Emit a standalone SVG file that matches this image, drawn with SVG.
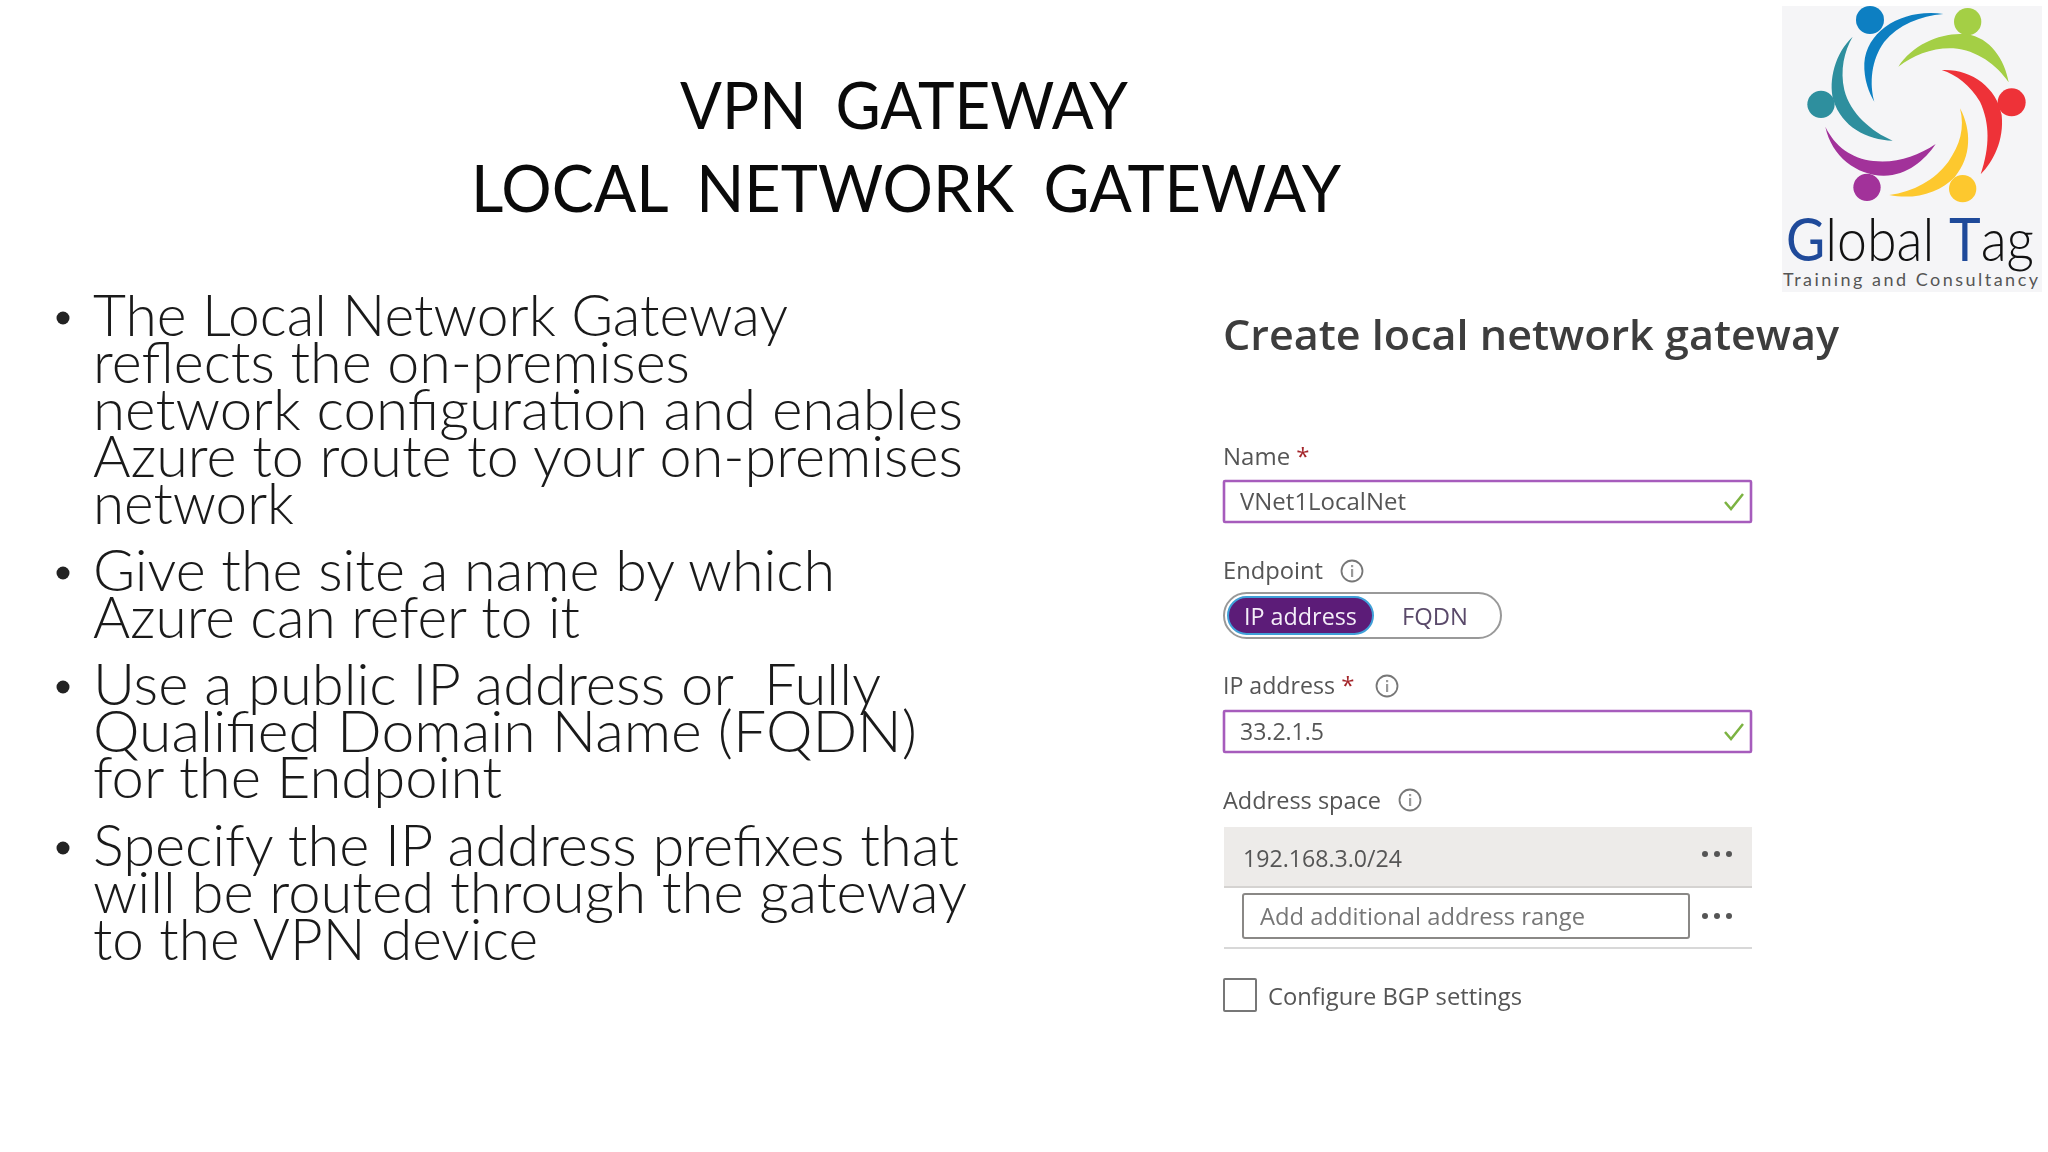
<svg xmlns="http://www.w3.org/2000/svg" width="2048" height="1152" viewBox="0 0 2048 1152">
<style>
.t{font-family:"Lato","Open Sans",sans-serif;fill:#1a1a1a}
.h{font-size:66px;font-weight:400;fill:#0a0a0a;word-spacing:14px}
.b{font-size:58px;font-weight:300;white-space:pre}
.u{font-family:"Open Sans","Noto Sans",sans-serif;fill:#555;font-size:24px}
.in{fill:#fff;stroke:#a65cbc;stroke-width:2.6}
.ck{fill:none;stroke:#7cb342;stroke-width:2.5}
.ic{fill:none;stroke:#777;stroke-width:1.8}
.id{fill:#999}
.dot{fill:#555}
.bl{fill:#222}
</style>
<defs><filter id="soft" x="-2%" y="-2%" width="104%" height="104%"><feGaussianBlur stdDeviation="0.5"/></filter></defs>
<rect width="2048" height="1152" fill="#fff"/>
<g id="title">
<text class="t h" x="680" y="129" textLength="448" lengthAdjust="spacingAndGlyphs">VPN GATEWAY</text>
<text class="t h" x="471" y="212" textLength="870" lengthAdjust="spacingAndGlyphs">LOCAL NETWORK GATEWAY</text>
</g>
<g id="bullets">
<text class="t b" x="93" y="336" textLength="695" lengthAdjust="spacingAndGlyphs">The Local Network Gateway</text>
<text class="t b" x="93" y="383" textLength="597" lengthAdjust="spacingAndGlyphs">reflects the on-premises</text>
<text class="t b" x="93" y="430" textLength="870" lengthAdjust="spacingAndGlyphs">network configuration and enables</text>
<text class="t b" x="93" y="477" textLength="870" lengthAdjust="spacingAndGlyphs">Azure to route to your on-premises</text>
<text class="t b" x="93" y="524" textLength="201" lengthAdjust="spacingAndGlyphs">network</text>
<text class="t b" x="93" y="591" textLength="742" lengthAdjust="spacingAndGlyphs">Give the site a name by which</text>
<text class="t b" x="93" y="638" textLength="487" lengthAdjust="spacingAndGlyphs">Azure can refer to it</text>
<text class="t b" x="93" y="705" textLength="788" lengthAdjust="spacingAndGlyphs">Use a public IP address or  Fully</text>
<text class="t b" x="93" y="752" textLength="824" lengthAdjust="spacingAndGlyphs">Qualified Domain Name (FQDN)</text>
<text class="t b" x="93" y="798" textLength="409" lengthAdjust="spacingAndGlyphs">for the Endpoint</text>
<text class="t b" x="93" y="866" textLength="866" lengthAdjust="spacingAndGlyphs">Specify the IP address prefixes that</text>
<text class="t b" x="93" y="913" textLength="874" lengthAdjust="spacingAndGlyphs">will be routed through the gateway</text>
<text class="t b" x="93" y="960" textLength="445" lengthAdjust="spacingAndGlyphs">to the VPN device</text>
<circle class="bl" cx="63" cy="318" r="6.5"/><circle class="bl" cx="63" cy="573" r="6.5"/><circle class="bl" cx="63" cy="687" r="6.5"/><circle class="bl" cx="63" cy="848" r="6.5"/>
</g>
<g id="form" filter="url(#soft)">
<text x="1223" y="350" font-family="Open Sans" font-size="42" font-weight="600" fill="#3c3c3c" textLength="616" lengthAdjust="spacingAndGlyphs">Create local network gateway</text>
<text class="u" x="1223" y="465">Name <tspan style="fill:#a4262c">*</tspan></text>
<rect class="in" x="1224" y="481" width="527" height="41" rx="1"/>
<text class="u" x="1240" y="510" textLength="166" lengthAdjust="spacingAndGlyphs">VNet1LocalNet</text>
<path class="ck" d="M1725 502l6 7 12-15"/>
<text class="u" x="1223" y="579" textLength="100" lengthAdjust="spacingAndGlyphs">Endpoint</text>
<circle class="ic" cx="1352" cy="571" r="10.5"/><rect class="id" x="1351" y="569" width="2.2" height="8"/><rect class="id" x="1351" y="565" width="2.2" height="2.2"/>
<rect x="1224" y="593" width="277" height="45" rx="22.5" fill="#fff" stroke="#999" stroke-width="2"/>
<rect x="1228" y="597" width="145" height="37" rx="18.5" fill="#5c1a78" stroke="#3fa0d8" stroke-width="2"/>
<text class="u" x="1244" y="625" style="fill:#f4eef8" textLength="113" lengthAdjust="spacingAndGlyphs">IP address</text>
<text class="u" x="1402" y="625" style="fill:#5a4a6a" textLength="66" lengthAdjust="spacingAndGlyphs">FQDN</text>
<text class="u" x="1223" y="694"><tspan textLength="112" lengthAdjust="spacingAndGlyphs">IP address</tspan> <tspan style="fill:#a4262c">*</tspan></text>
<circle class="ic" cx="1387" cy="686" r="10.5"/><rect class="id" x="1386" y="684" width="2.2" height="8"/><rect class="id" x="1386" y="680" width="2.2" height="2.2"/>
<rect class="in" x="1224" y="711" width="527" height="41" rx="1"/>
<text class="u" x="1240" y="740" textLength="84" lengthAdjust="spacingAndGlyphs">33.2.1.5</text>
<path class="ck" d="M1725 732l6 7 12-15"/>
<text class="u" x="1223" y="809" textLength="158" lengthAdjust="spacingAndGlyphs">Address space</text>
<circle class="ic" cx="1410" cy="800" r="10.5"/><rect class="id" x="1409" y="798" width="2.2" height="8"/><rect class="id" x="1409" y="794" width="2.2" height="2.2"/>
<rect x="1224" y="827" width="528" height="60" fill="#edebe9"/>
<line x1="1224" y1="887" x2="1752" y2="887" stroke="#d5d3d1" stroke-width="2"/>
<text class="u" x="1243" y="867" textLength="159" lengthAdjust="spacingAndGlyphs">192.168.3.0/24</text>
<circle class="dot" cx="1705" cy="854" r="3"/><circle class="dot" cx="1717" cy="854" r="3"/><circle class="dot" cx="1729" cy="854" r="3"/>
<rect x="1243" y="894" width="446" height="44" rx="2" fill="#fff" stroke="#8a8886" stroke-width="2"/>
<text class="u" x="1260" y="925" style="fill:#777" textLength="325" lengthAdjust="spacingAndGlyphs">Add additional address range</text>
<circle class="dot" cx="1705" cy="916" r="3"/><circle class="dot" cx="1717" cy="916" r="3"/><circle class="dot" cx="1729" cy="916" r="3"/>
<line x1="1224" y1="948" x2="1752" y2="948" stroke="#d8d8d8" stroke-width="2"/>
<rect x="1224" y="979" width="32" height="32" rx="1" fill="#fff" stroke="#777" stroke-width="2"/>
<text class="u" x="1268" y="1005" textLength="254" lengthAdjust="spacingAndGlyphs">Configure BGP settings</text>
</g>
<g id="logo">
<rect x="1782" y="6" width="260" height="286" fill="#f5f5f7"/>
<g transform="translate(1770 0) scale(0.33333)" filter="url(#soft)">
<circle cx="300" cy="60" r="42" fill="#0a7fc2"/>
<circle cx="593" cy="65" r="41" fill="#a4cf45"/>
<circle cx="153" cy="313" r="41" fill="#2e8f9e"/>
<circle cx="725" cy="307" r="42" fill="#ee3338"/>
<circle cx="291" cy="562" r="41" fill="#a2319a"/>
<circle cx="578" cy="566" r="41" fill="#fdc82f"/>
<path fill="#0a7fc2" d="M520 42C400 25 290 90 283 190C281 240 298 280 313 305C298 250 303 180 343 125C385 75 450 48 520 42Z"/>
<path fill="#a4cf45" d="M385 200C430 130 520 95 590 103C660 112 705 180 716 247C680 195 620 150 550 145C490 142 430 165 385 200Z"/>
<path fill="#ee3338" d="M515 210C600 205 680 260 695 345C703 420 670 485 632 523C660 440 660 370 630 305C600 255 560 225 515 210Z"/>
<path fill="#fdc82f" d="M570 325C605 390 605 470 555 530C510 580 430 600 358 585C430 575 495 540 535 485C570 435 585 385 570 325Z"/>
<path fill="#a2319a" d="M166 380C185 470 260 525 340 527C410 528 465 480 497 432C440 470 380 490 310 483C245 475 195 440 166 380Z"/>
<path fill="#2e8f9e" d="M248 110C195 160 175 240 190 300C215 380 290 420 368 422C305 395 240 340 223 270C210 210 222 155 248 110Z"/>
</g>
<text x="1786" y="261" font-family="Lato" font-size="60" font-weight="300" fill="#111" textLength="248" lengthAdjust="spacingAndGlyphs"><tspan fill="#1f4a9a" font-weight="400">G</tspan>lobal <tspan fill="#1f4a9a" font-weight="400">T</tspan>ag</text>
<text x="1783" y="286" font-family="Lato" font-size="18" fill="#555" textLength="255" lengthAdjust="spacing">Training and Consultancy</text>
</g>
</svg>
